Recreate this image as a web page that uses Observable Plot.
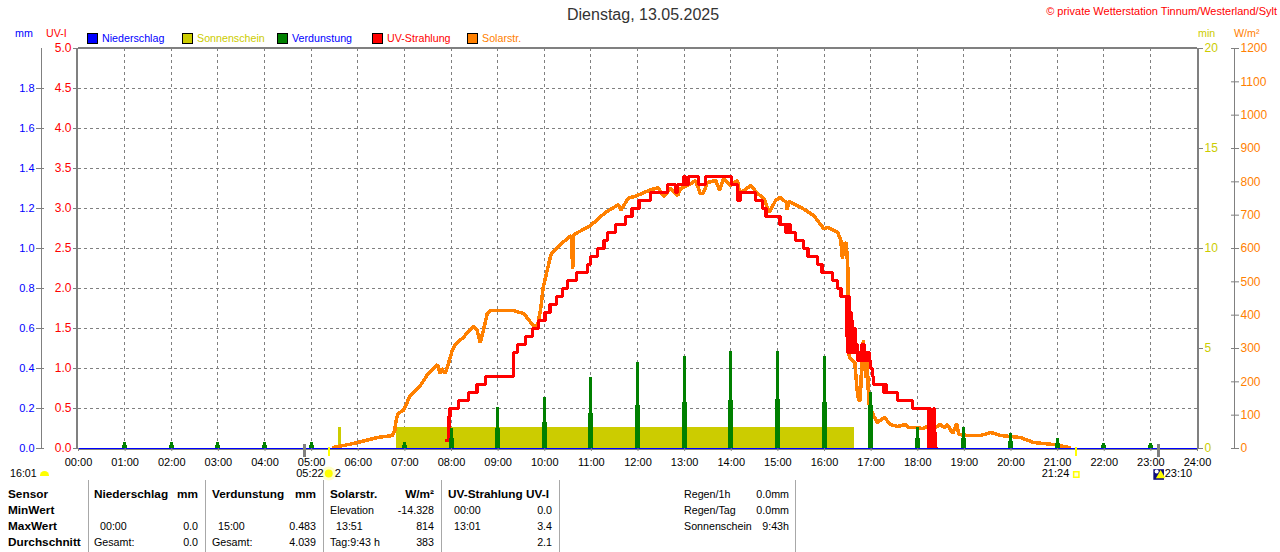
<!DOCTYPE html>
<html lang="de">
<head>
<meta charset="utf-8">
<title>Wetterstation Tinnum</title>
<script src="https://cdn.jsdelivr.net/npm/d3@7"></script>
<script src="https://cdn.jsdelivr.net/npm/@observablehq/plot@0.6"></script>
<style>
  html, body { margin: 0; padding: 0; background: #fff; }
  #page { position: relative; width: 1280px; height: 552px; overflow: hidden; font: 10.7px "Liberation Sans", Arial, sans-serif; color: #000; }
  #head { height: 40px; }
  #page span.t { position: absolute; white-space: nowrap; line-height: 14px; }
  .sq { position: absolute; width: 9px; height: 9px; border: 1px solid #000; top: 33px; }
  .vl { position: absolute; top: 480px; height: 72px; width: 1px; background: #a8a8a8; }
  svg { display: block; }
</style>
</head>
<body>
<div id="page"><div id="head"></div><div id="chart"></div></div>
<script>
// ---------- data ----------
const hours = d3.range(0, 25);
const hourLabels = hours.map(h => String(h).padStart(2, "0") + ":00");
const uvTicks = [0, 0.5, 1, 1.5, 2, 2.5, 3, 3.5, 4, 4.5, 5];
const mmTicks = [0, 0.2, 0.4, 0.6, 0.8, 1.0, 1.2, 1.4, 1.6, 1.8];
const minTicks = [0, 5, 10, 15, 20];
const wattTicks = [0, 100, 200, 300, 400, 500, 600, 700, 800, 900, 1000, 1100, 1200];

// UV-Strahlung: minute of day, UV index (stepped)
const uvMinutes = [474, 477, 478, 489, 502, 513, 524, 560, 565, 575, 584, 592, 600, 607, 615, 623, 629, 641, 655, 659, 668, 676, 681, 691, 704, 712, 721, 736, 758, 768, 771, 779, 781, 785, 798, 807, 840, 848, 849, 851, 871, 880, 885, 903, 910, 911, 912, 913, 914, 915, 916, 923, 933, 939, 951, 957, 970, 977, 981, 987, 988, 989, 990, 991, 992, 993, 994, 995, 996, 997, 998, 999, 1000, 1001, 1002, 1003, 1005, 1006, 1007, 1008, 1009, 1010, 1011, 1012, 1013, 1014, 1015, 1016, 1017, 1019, 1022, 1023, 1036, 1037, 1038, 1039, 1040, 1041, 1054, 1056, 1073, 1094, 1095, 1096, 1097, 1098, 1099, 1100, 1101, 1102, 1103, 1104];
const uvValues  = [0.1, 0.4, 0.5, 0.6, 0.7, 0.8, 0.9, 1.2, 1.3, 1.4, 1.5, 1.6, 1.7, 1.8, 1.9, 2.0, 2.1, 2.2, 2.3, 2.4, 2.5, 2.6, 2.7, 2.8, 2.9, 3.0, 3.1, 3.2, 3.3, 3.2, 3.3, 3.4, 3.3, 3.4, 3.3, 3.4, 3.3, 3.2, 3.1, 3.2, 3.1, 3.0, 2.9, 2.8, 2.7, 2.8, 2.7, 2.8, 2.7, 2.8, 2.7, 2.6, 2.5, 2.4, 2.3, 2.2, 2.1, 2.0, 1.9, 1.9, 1.4, 1.9, 1.2, 1.9, 1.2, 1.7, 1.2, 1.6, 1.2, 1.5, 1.2, 1.5, 1.2, 1.3, 1.2, 1.1, 1.1, 1.2, 1.1, 1.3, 1.1, 1.3, 1.1, 1.2, 1.1, 1.2, 1.1, 1.2, 1.1, 1.0, 0.9, 0.8, 0.7, 0.8, 0.7, 0.8, 0.7, 0.7, 0.6, 0.6, 0.5, 0.0, 0.5, 0.0, 0.2, 0.0, 0.2, 0.5, 0.0, 0.2, 0.0, 0.0];

// Solarstrahlung: minute of day, W/m2
const solarMinutes = [328, 354, 385, 404, 407, 408, 411, 418, 427, 440, 450, 462, 465, 467, 472, 476, 481, 485, 495, 508, 513, 517, 521, 526, 530, 559, 573, 582, 586, 591, 595, 598, 604, 608, 620, 634, 636, 637, 640, 659, 678, 695, 698, 707, 719, 734, 746, 753, 762, 771, 775, 788, 794, 800, 804, 809, 820, 825, 830, 839, 848, 851, 865, 874, 882, 889, 897, 903, 911, 912, 914, 932, 946, 959, 965, 977, 981, 983, 986, 988, 990, 991, 993, 999, 1002, 1004, 1006, 1008, 1010, 1013, 1015, 1017, 1023, 1028, 1037, 1045, 1054, 1064, 1068, 1080, 1086, 1093, 1100, 1109, 1114, 1118, 1125, 1130, 1133, 1144, 1161, 1174, 1187, 1212, 1229, 1255, 1275];
const solarValues  = [3, 15, 33, 39, 54, 75, 105, 114, 159, 189, 225, 252, 225, 240, 225, 255, 294, 312, 333, 366, 354, 318, 354, 405, 414, 414, 405, 378, 366, 372, 423, 483, 543, 582, 612, 639, 540, 639, 645, 669, 708, 732, 714, 750, 759, 774, 783, 756, 780, 759, 780, 795, 804, 765, 765, 798, 804, 774, 810, 789, 804, 765, 789, 765, 750, 708, 744, 753, 738, 717, 741, 720, 699, 660, 663, 648, 624, 570, 615, 618, 543, 285, 270, 258, 174, 144, 144, 258, 324, 213, 258, 135, 99, 78, 93, 72, 66, 72, 63, 63, 60, 66, 60, 72, 63, 72, 45, 75, 42, 39, 39, 48, 39, 33, 18, 12, 3];

// Verdunstung (mm), hourly bars with a wide short part and a narrow tall part
const evapHours = [1, 2, 3, 4, 5, 7, 8, 9, 10, 11, 12, 13, 14, 15, 16, 17, 18, 19, 20, 21, 22, 23];
const evapTall  = [0.03, 0.03, 0.03, 0.03, 0.03, 0.03, 0.1, 0.205, 0.255, 0.355, 0.43, 0.46, 0.483, 0.483, 0.46, 0.28, 0.105, 0.105, 0.075, 0.05, 0.025, 0.025];
const evapShort = [0.015, 0.015, 0.015, 0.015, 0.015, 0.015, 0.05, 0.1, 0.13, 0.175, 0.215, 0.23, 0.24, 0.245, 0.23, 0.215, 0.05, 0.05, 0.035, 0.025, 0.015, 0.015];

// Sonnenschein: start minute, end minute, height in min
const sunStart = [334, 409];
const sunEnd = [339, 999];
const sunHeight = [1.05, 1.05];

const sunriseMin = 322, sunsetMin = 1284, moonMin = 1390, moonTickMin = 291;

const legendNames = ["Niederschlag", "Sonnenschein", "Verdunstung", "UV-Strahlung", "Solarstr."];
const legendBox = ["#0000ff", "#cccc00", "#008000", "#ff0000", "#ff8000"];
const legendText = ["#0000ff", "#cccc00", "#0000ff", "#ff0000", "#ff8000"];
const legendLeft = [87, 182, 277, 372, 467];

const tableRows = [
  ["Sensor", 8, 494, "l", 1], ["MinWert", 8, 510, "l", 1], ["MaxWert", 8, 526, "l", 1], ["Durchschnitt", 8, 542, "l", 1],
  ["Niederschlag", 94, 494, "l", 1], ["mm", 198, 494, "r", 1], ["00:00", 100, 526, "l"], ["0.0", 198, 526, "r"], ["Gesamt:", 94, 542, "l"], ["0.0", 198, 542, "r"],
  ["Verdunstung", 212, 494, "l", 1], ["mm", 316, 494, "r", 1], ["15:00", 218, 526, "l"], ["0.483", 316, 526, "r"], ["Gesamt:", 212, 542, "l"], ["4.039", 316, 542, "r"],
  ["Solarstr.", 330, 494, "l", 1], ["W/m²", 434, 494, "r", 1], ["Elevation", 330, 510, "l"], ["-14.328", 434, 510, "r"], ["13:51", 336, 526, "l"], ["814", 434, 526, "r"], ["Tag:9:43 h", 330, 542, "l"], ["383", 434, 542, "r"],
  ["UV-Strahlung UV-I", 448, 494, "l", 1], ["00:00", 454, 510, "l"], ["0.0", 552, 510, "r"], ["13:01", 454, 526, "l"], ["3.4", 552, 526, "r"], ["2.1", 552, 542, "r"],
  ["Regen/1h", 684, 494, "l"], ["0.0mm", 789, 494, "r"], ["Regen/Tag", 684, 510, "l"], ["0.0mm", 789, 510, "r"], ["Sonnenschein", 684, 526, "l"], ["9:43h", 789, 526, "r"]
];
const tableDividers = [88, 205, 323, 441, 559, 795];

// ---------- tables for the marks ----------
const uvData = uvMinutes.map((m, i) => ({m, v: uvValues[i]}));
const solarData = solarMinutes.map((m, i) => ({m, v: solarValues[i] / 240}));
const evapData = evapHours.map((h, i) => ({m: h * 60, tall: evapTall[i] * 2.5, short: evapShort[i] * 2.5}));
const sunData = sunStart.map((s, i) => ({x1: s, x2: sunEnd[i], y: sunHeight[i] / 4}));
const grey = "#808080", dash = "3 3", crisp = "crispEdges";

const chart = Plot.plot({
  width: 1280, height: 440,
  marginLeft: 78, marginRight: 83, marginTop: 8, marginBottom: 32,
  x: {domain: [0, 1440], axis: null},
  y: {domain: [0, 5], axis: null},
  style: {fontFamily: '"Liberation Sans", Arial, sans-serif', fontSize: "11px", background: "transparent", overflow: "visible"},
  marks: [
    // grid
    Plot.ruleX(hours.slice(1, 24), {x: h => h * 60, dx: -0.5, stroke: grey, strokeDasharray: dash, shapeRendering: crisp}),
    Plot.ruleY(uvTicks.slice(1, 10), {y: d => d, stroke: grey, strokeDasharray: dash, shapeRendering: crisp}),
    // sunshine
    Plot.rectY(sunData, {x1: "x1", x2: "x2", y1: 0, y2: "y", fill: "#cccc00", shapeRendering: crisp}),
    // solar + UV
    Plot.line(solarData, {x: "m", y: "v", stroke: "#ff8000", strokeWidth: 3.5, strokeLinejoin: "miter", shapeRendering: crisp}),
    Plot.line(uvData, {x: "m", y: "v", stroke: "#ff0000", strokeWidth: 3.5, curve: "step-after", strokeLinejoin: "miter", shapeRendering: crisp}),
    // evaporation
    Plot.ruleX(evapData, {x: "m", dx: -0.5, y1: 0, y2: "short", stroke: "#008000", strokeWidth: 5, shapeRendering: crisp}),
    Plot.ruleX(evapData, {x: "m", dx: -0.5, y1: 0, y2: "tall", stroke: "#008000", strokeWidth: 3, shapeRendering: crisp}),
    // frame
    Plot.ruleY([5], {stroke: grey, strokeWidth: 2, dy: -1, shapeRendering: crisp}),
    Plot.ruleX([0], {stroke: grey, strokeWidth: 2, dx: -1.5, shapeRendering: crisp}),
    Plot.ruleX([1440], {stroke: grey, strokeWidth: 2, shapeRendering: crisp}),
    Plot.ruleY([0], {stroke: grey, strokeWidth: 1, dy: 1, shapeRendering: crisp}),
    Plot.ruleY([0], {stroke: "#0000ff", strokeWidth: 1, shapeRendering: crisp}),
    // extra vertical scale lines
    Plot.ruleX([0], {dx: -37.5, stroke: grey, shapeRendering: crisp}),
    Plot.ruleX([1440], {dx: 37, stroke: grey, shapeRendering: crisp}),
    // axes
    Plot.axisX(hours.map(h => h * 60), {anchor: "bottom", tickSize: 3, tickPadding: 7, stroke: grey, fill: "#000", tickFormat: m => hourLabels[m / 60], label: null}),
    Plot.axisY(uvTicks, {anchor: "left", tickSize: 5, tickPadding: 2, stroke: grey, fill: "#ff0000", tickFormat: d => d.toFixed(1), label: null, fontSize: 12}),
    Plot.axisY(mmTicks.map(d => d * 2.5), {anchor: "left", dx: -34, tickSize: 8, tickPadding: 2, stroke: grey, fill: "#0000ff", tickFormat: d => (d / 2.5).toFixed(1), label: null}),
    Plot.axisY(minTicks.map(d => d / 4), {anchor: "right", tickSize: 5, tickPadding: 2, stroke: grey, fill: "#cccc00", tickFormat: d => String(d * 4), label: null, fontSize: 12}),
    Plot.axisY(wattTicks.map(d => d / 240), {anchor: "right", dx: 33, tickSize: 8, tickPadding: 2, stroke: grey, fill: "#ff8000", tickFormat: d => String(Math.round(d * 240)), label: null, fontSize: 12}),
    // rise/set ticks
    Plot.ruleX([moonTickMin, moonMin], {y1: 0, y2: 0, x: d => d, stroke: grey, strokeWidth: 3, insetTop: -4, insetBottom: -9, shapeRendering: crisp}),
    Plot.ruleX([sunriseMin, sunsetMin], {x: d => d, y1: 0, y2: 0, stroke: "#ffff00", strokeWidth: 2, insetTop: -1, insetBottom: -8, shapeRendering: crisp}),
    // sun and moon markers
    Plot.dot([sunriseMin], {x: d => d, y: () => 0, dy: 25, r: 7, fill: "#ffffc8"}),
    Plot.dot([sunriseMin], {x: d => d, y: () => 0, dy: 25, r: 4, fill: "#ffff00"}),
    Plot.text([sunriseMin], {x: d => d, y: () => 0, dy: 25, dx: -5, text: () => "05:22", textAnchor: "end", fill: "#000"}),
    Plot.text([sunriseMin], {x: d => d, y: () => 0, dy: 25, dx: 6, text: () => "2", textAnchor: "start", fill: "#000"}),
    Plot.dot([sunsetMin], {x: d => d, y: () => 0, dy: 26, r: 3, symbol: "square", fill: "#ffffe0", stroke: "#ffff00"}),
    Plot.text([sunsetMin], {x: d => d, y: () => 0, dy: 25, dx: -7, text: () => "21:24", textAnchor: "end", fill: "#000"}),
    Plot.dot([moonMin], {x: d => d, y: () => 0, dy: 26, dx: 0, r: 6, symbol: "square", fill: "#10107a"}),
    Plot.dot([moonMin], {x: d => d, y: () => 0, dy: 23, dx: -2, r: 2, fill: "#fff"}),
    Plot.dot([moonMin], {x: d => d, y: () => 0, dy: 27, dx: 2, r: 3.5, symbol: "triangle", fill: "#ffff00"}),
    Plot.text([moonMin], {x: d => d, y: () => 0, dy: 25, dx: 6, text: () => "23:10", textAnchor: "start", fill: "#000"})
  ]
});
document.getElementById("chart").appendChild(chart);

// ---------- text around the chart ----------
const page = document.getElementById("page");
function put(text, x, y, opt = {}) {
  const s = document.createElement("span");
  s.className = "t";
  s.textContent = text;
  s.style.top = (y - 7) + "px";
  if (opt.right) s.style.right = (1280 - x) + "px"; else s.style.left = x + "px";
  if (opt.color) s.style.color = opt.color;
  if (opt.bold) { s.style.fontWeight = "bold"; s.style.fontSize = "11.8px"; }
  if (opt.size) s.style.fontSize = opt.size + "px";
  page.appendChild(s);
}
put("Dienstag, 13.05.2025", 567, 15, {size: 16, color: "#333"});
put("© private Wetterstation Tinnum/Westerland/Sylt", 1277, 11, {right: true, color: "#ff0000", size: 11});
put("mm", 15, 33, {color: "#0000ff"});
put("UV-I", 46, 33, {color: "#ff0000"});
put("min", 1198, 33, {color: "#cccc00"});
put("W/m²", 1234, 33, {color: "#ff8000"});
legendNames.forEach((name, i) => {
  const b = document.createElement("div");
  b.className = "sq";
  b.style.left = legendLeft[i] + "px";
  b.style.background = legendBox[i];
  page.appendChild(b);
  put(name, legendLeft[i] + 15, 38, {color: legendText[i]});
});
put("16:01", 10, 473);
const half = document.createElement("div");
half.style.cssText = "position:absolute;left:40px;top:471px;width:9px;height:5px;background:#ffff00;border-radius:5px 5px 0 0;";
page.appendChild(half);
tableRows.forEach(([t, x, y, a, bold]) => put(t, x, y, {right: a === "r", bold: !!bold}));
tableDividers.forEach(x => {
  const d = document.createElement("div");
  d.className = "vl";
  d.style.left = x + "px";
  page.appendChild(d);
});
</script>
</body>
</html>
